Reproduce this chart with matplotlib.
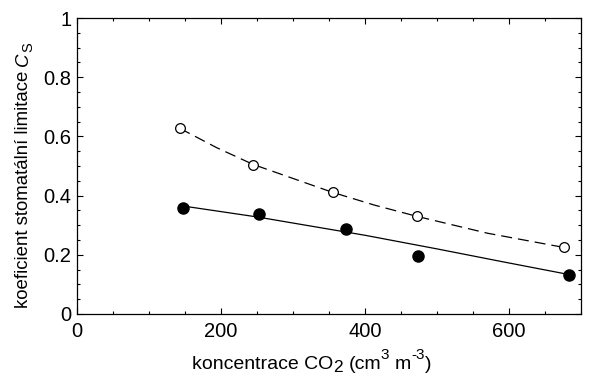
import numpy as np
import matplotlib
matplotlib.use('Agg')
import matplotlib.pyplot as plt
from matplotlib.ticker import MultipleLocator, FuncFormatter
from matplotlib.transforms import IdentityTransform

# measured points
co2_open = [143, 245, 355, 472, 676]
cs_open = [0.627, 0.504, 0.411, 0.330, 0.225]
co2_full = [147, 253, 374, 473, 684]
cs_full = [0.357, 0.337, 0.287, 0.196, 0.133]

# fitted curves
fit_open_x = [143, 194, 245, 300, 355, 413, 472, 570, 676]
fit_open_y = [0.627, 0.562, 0.505, 0.458, 0.411, 0.368, 0.330, 0.273, 0.225]
fit_full_x = [147, 250, 400, 500, 588, 684]
fit_full_y = [0.365, 0.328, 0.266, 0.220, 0.178, 0.133]

plt.rcParams['font.family'] = ['Liberation Sans', 'DejaVu Sans']

W, H = 595, 376
fig = plt.figure(figsize=(W / 100, H / 100), dpi=100)
ax = fig.add_axes([0.1294, 0.1649, 0.8471, 0.7871])

ax.plot(fit_open_x, fit_open_y, color='black', lw=0.9, dashes=(8.8, 4.8))
ax.plot(fit_full_x, fit_full_y, color='black', lw=0.9)
ax.plot(co2_open, cs_open, 'o', mfc='white', mec='black', mew=0.9, ms=7)
ax.plot(co2_full, cs_full, 'o', color='black', ms=8)

ax.set_xlim(0, 700)
ax.set_ylim(0, 1)
ax.xaxis.set_major_locator(MultipleLocator(200))
ax.xaxis.set_minor_locator(MultipleLocator(50))
ax.yaxis.set_major_locator(MultipleLocator(0.2))
ax.yaxis.set_minor_locator(MultipleLocator(0.05))
ax.yaxis.set_major_formatter(FuncFormatter(lambda v, p: '%g' % round(v, 2)))
ax.tick_params(which='both', direction='in', top=True, right=True, width=0.8)
ax.tick_params(which='major', length=4, labelsize=14.5)
ax.tick_params(axis='x', which='major', pad=6)
ax.tick_params(axis='y', which='major', pad=4)
ax.tick_params(which='minor', length=2.5)
for s in ax.spines.values():
    s.set_linewidth(0.9)

renderer = fig.canvas.get_renderer()


def space_width(size, style='normal'):
    a = fig.text(0, 0, 'x x', fontsize=size, style=style)
    b = fig.text(0, 0, 'xx', fontsize=size, style=style)
    w = a.get_window_extent(renderer).width - b.get_window_extent(renderer).width
    a.remove()
    b.remove()
    return w


# label built from pieces: (text, size, shift, style, gap in spaces)
def draw_label(pieces, x0, y0, vertical=False):
    pos = 0.0
    for s, size, shift, style, gap in pieces:
        pos += gap * space_width(size)
        if vertical:
            t = fig.text(x0 + shift, y0 + pos, s, fontsize=size, style=style,
                         rotation=90, rotation_mode='anchor',
                         ha='left', va='baseline', transform=IdentityTransform())
            pos += t.get_window_extent(renderer).height
        else:
            t = fig.text(x0 + pos, y0 + shift, s, fontsize=size, style=style,
                         ha='left', va='baseline', transform=IdentityTransform())
            pos += t.get_window_extent(renderer).width


xlabel = [('koncentrace CO', 14, 0, 'normal', 0),
          ('2', 12.4, -3.5, 'normal', 0),
          ('(cm', 14, 0, 'normal', 1),
          ('3', 11, 10, 'normal', 0),
          ('m', 14, 0, 'normal', 1),
          ('-3', 11, 10, 'normal', 0),
          (')', 14, 0, 'normal', 0)]
ylabel = [('koeficient stomatální limitace', 13.4, 0, 'normal', 0),
          ('C', 13.4, 0, 'italic', 1),
          ('S', 10.5, 4, 'normal', 0)]

draw_label(xlabel, 192, H - 369)
draw_label(ylabel, 28, H - 308, vertical=True)

fig.savefig('out.png', dpi=100)
